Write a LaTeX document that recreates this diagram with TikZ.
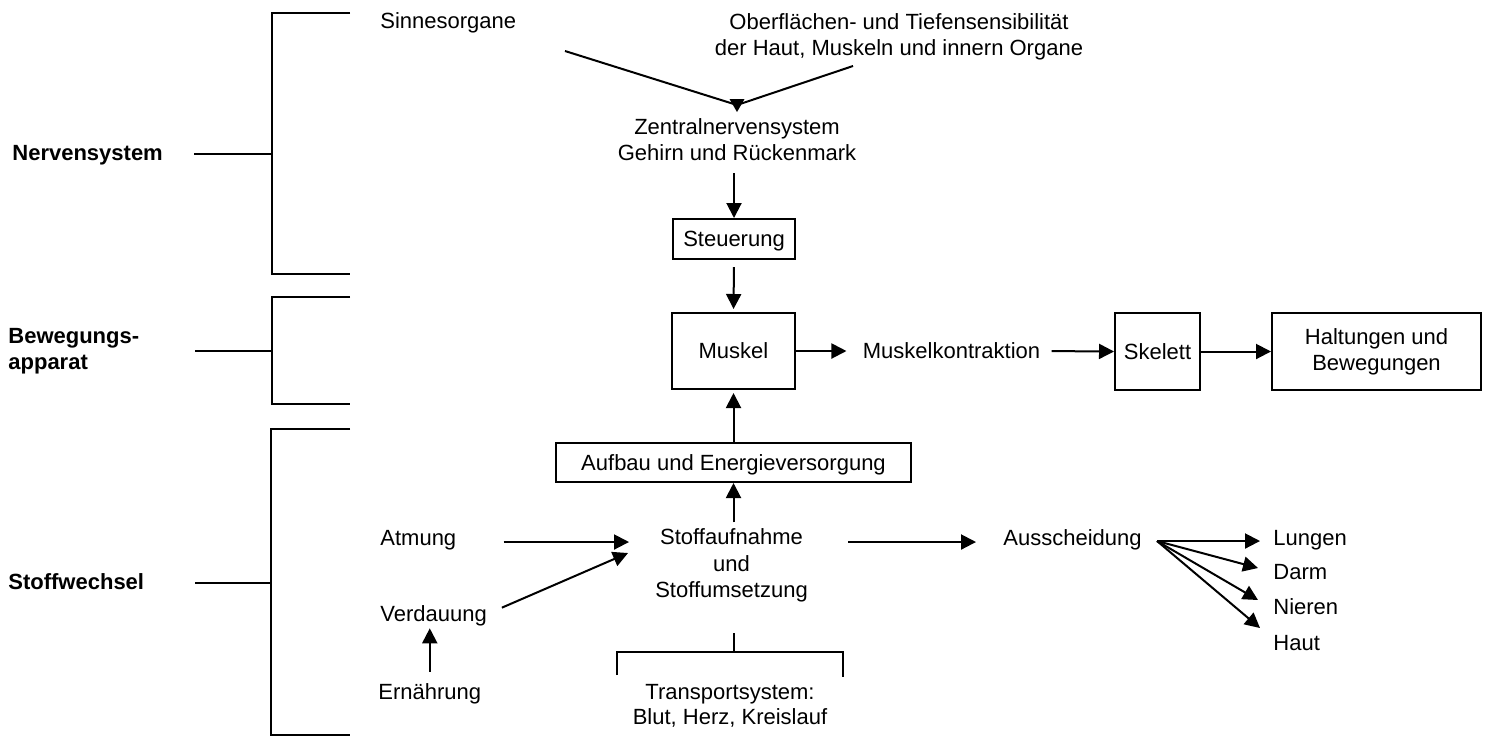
\documentclass[tikz,border=0pt]{standalone}
\usepackage{fontspec}
\setmainfont{Liberation Sans}
\usetikzlibrary{arrows.meta}
\begin{document}
\begin{tikzpicture}[x=0.5pt,y=-0.5pt,
  every node/.style={font=\fontsize{11}{13}\selectfont, inner sep=0pt, text height=7.9pt, text depth=0pt},
  lbl/.style={font=\fontsize{11}{13}\selectfont\bfseries},
  ml/.style={align=center, text height=, text depth=},
  box/.style={draw, line width=1pt},
  ln/.style={line width=1pt},
  arr/.style={line width=1pt, -{Triangle[length=7.5pt,width=7.5pt]}}]
\useasboundingbox (0,0) rectangle (1491,736);

% ---- left labels and brackets
\node[lbl, anchor=west] (nerv) at (12,153) {Nervensystem};
\node[lbl, ml, align=left, anchor=west] (beweg) at (8,351) {Bewegungs-\\apparat};
\node[lbl, anchor=west] (stoffw) at (8,582) {Stoffwechsel};

\draw[ln] (350,13) -- (272,13) -- (272,274) -- (350,274);
\draw[ln] (194,154) -- (272,154);
\draw[ln] (350,297) -- (272,297) -- (272,404) -- (350,404);
\draw[ln] (195,351) -- (272,351);
\draw[ln] (350,429) -- (271,429) -- (271,735) -- (350,735);
\draw[ln] (195,583) -- (271,583);

% ---- nervous system
\node[anchor=west] (sinnes) at (380,21) {Sinnesorgane};
\node[ml] (ober) at (899,37) {Oberflächen- und Tiefensensibilität\\der Haut, Muskeln und innern Organe};
\node[ml] (zns) at (737,140) {Zentralnervensystem\\Gehirn und Rückenmark};
\coordinate (s1) at (565,51);
\coordinate (s2) at (853,66);
\coordinate (cm) at (737,105);
\coordinate (conv) at (737,112);
\draw[ln] (s1) -- (cm) -- (s2);
\fill (conv) -- ++(-7.5,-13) -- ++(15,0) -- cycle;

\node[box, minimum width=61pt, minimum height=20pt] (steu) at (734,239) {Steuerung};
\draw[arr, shorten <=6pt] (zns.south -| steu.north) -- (steu.north);

% ---- movement apparatus
\node[box, minimum width=61.5pt, minimum height=38pt] (muskel) at (733.5,351) {Muskel};
\draw[arr, shorten <=3.5pt, shorten >=1.5pt] (steu.south) -- (muskel.north);
\node (kontr) at (951.5,351) {Muskelkontraktion};
\draw[arr, shorten >=8pt] (muskel.east) -- (kontr.west);
\node[box, minimum width=42.5pt, minimum height=38.5pt] (skel) at (1157.5,351.5) {Skelett};
\draw[arr, shorten <=5.5pt] (kontr.east) -- (skel.west);
\node[box, ml, minimum width=104.5pt, minimum height=38.5pt] (halt) at (1376.5,351.5) {Haltungen und\\Bewegungen};
\draw[arr] (skel.east) -- (halt.west);

% ---- metabolism
\node[box, minimum width=177.5pt, minimum height=19.5pt] (aufbau) at (733.5,462.5) {Aufbau und Energieversorgung};
\draw[arr, shorten >=1.5pt] (aufbau.north) -- (muskel.south);
\node[ml, font=\fontsize{11}{13.25}\selectfont] (stoff) at (731.5,565.5) {Stoffaufnahme\\und\\Stoffumsetzung};
\draw[arr, shorten <=3pt] (stoff.north -| aufbau.south) -- (aufbau.south);

\node[anchor=west] (atm) at (380,538) {Atmung};
\node[anchor=west] (verd) at (380,614) {Verdauung};
\node[anchor=west] (ern) at (378,692) {Ernährung};
\coordinate (in1) at (629,542);
\coordinate (in2) at (628,553);
\draw[arr, shorten <=23.5pt] (atm.east |- in1) -- (in1);
\draw[arr, shorten <=8pt] (verd.east) -- (in2);
\draw[arr, shorten <=6pt, shorten >=3pt] (ern.north) -- (ern.north |- verd.south);

\node[anchor=west] (aus) at (1003,538) {Ausscheidung};
\draw[arr, shorten <=20pt, shorten >=13.5pt] (stoff.east |- in1) -- (aus.west |- in1);

\node[anchor=west] (lung) at (1273,538) {Lungen};
\node[anchor=west] (darm) at (1273,572) {Darm};
\node[anchor=west] (nier) at (1273,607) {Nieren};
\node[anchor=west] (haut) at (1273,643) {Haut};
\coordinate (fan) at (1157,541);
\draw[arr] (fan) -- ([xshift=-6.5pt,yshift=-1.5pt]lung.west);
\draw[arr] (fan) -- ([xshift=-7.5pt,yshift=2pt]darm.west);
\draw[arr] (fan) -- ([xshift=-7.5pt,yshift=3.5pt]nier.west);
\draw[arr] (fan) -- ([xshift=-6.5pt,yshift=7.5pt]haut.west);

% ---- transport system
\node[ml, font=\fontsize{11}{12.5}\selectfont] (transp) at (730,706) {Transportsystem:\\Blut, Herz, Kreislauf};
\draw[ln] (734,633) -- (734,652);
\draw[ln] (617,675) -- (617,652) -- (843,652) -- (843,677);
\end{tikzpicture}
\end{document}
